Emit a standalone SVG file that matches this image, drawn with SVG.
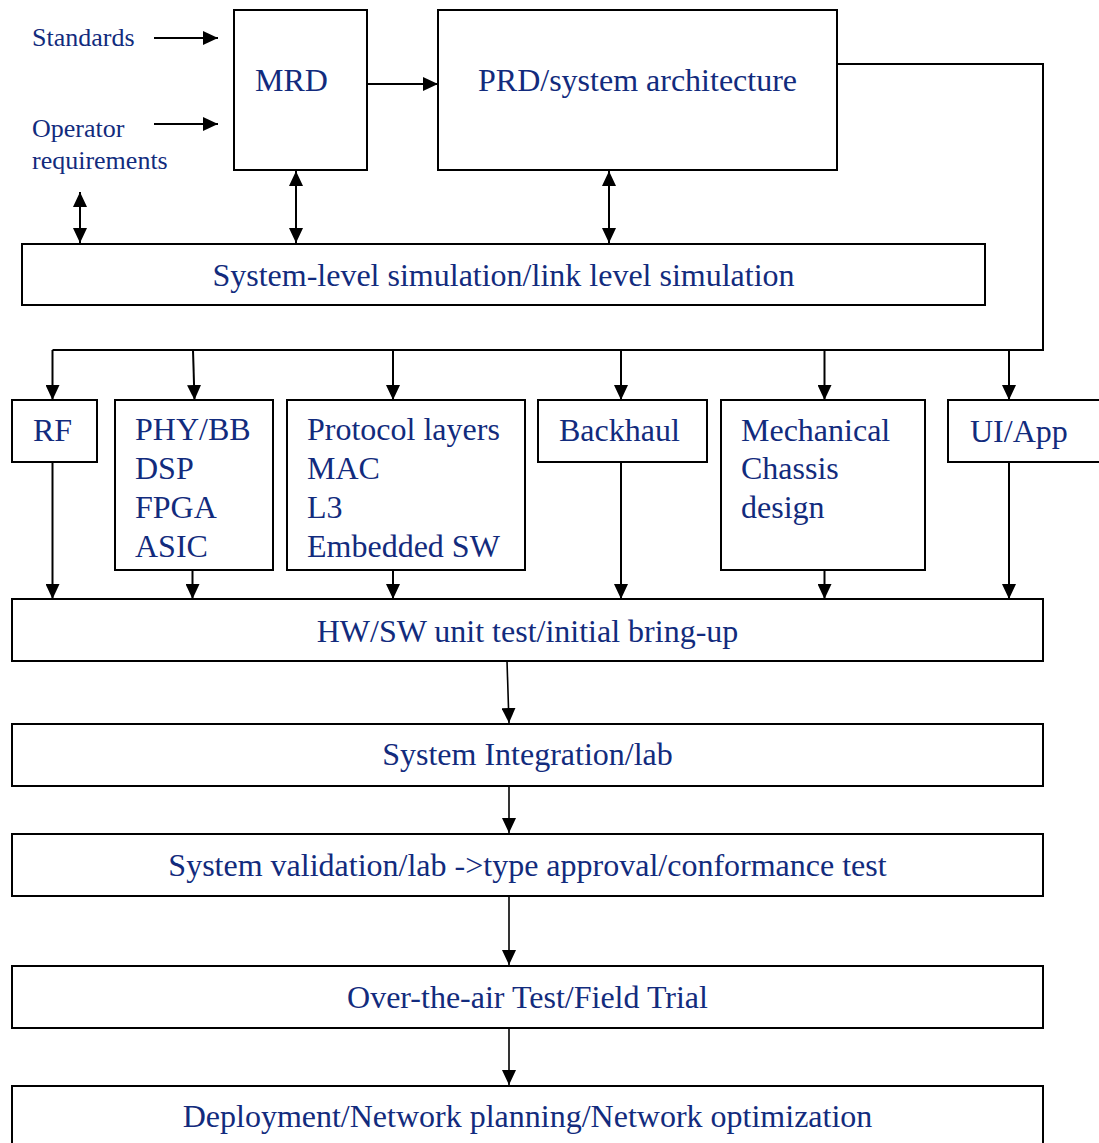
<svg xmlns="http://www.w3.org/2000/svg" width="1099" height="1143" viewBox="0 0 1099 1143">
<style>
.box{fill:#fff;stroke:#000;stroke-width:2}
.t{font-family:"Liberation Serif","Times New Roman",serif;font-size:32px;fill:#122b7d}
.s{font-family:"Liberation Serif","Times New Roman",serif;font-size:26px;fill:#122b7d}
.c{text-anchor:middle}
.ln{fill:none;stroke:#000;stroke-width:2}
.ar{fill:none;stroke:#000;stroke-width:2;marker-end:url(#ah)}
.ar2{fill:none;stroke:#000;stroke-width:2;marker-start:url(#ah);marker-end:url(#ah)}
.ar3{fill:none;stroke:#000;stroke-width:1.6;marker-end:url(#ah)}
</style>
<defs>
<marker id="ah" markerUnits="userSpaceOnUse" markerWidth="15" markerHeight="14" refX="15" refY="7" orient="auto-start-reverse"><path d="M0,0 L15,7 L0,14 z" fill="#000"/></marker>
</defs>
<rect width="1099" height="1143" fill="#fff"/>
<g id="inputs">
<text class="s" x="32" y="46">Standards</text>
<text class="s" x="32" y="137">Operator</text>
<text class="s" x="32" y="169">requirements</text>
</g>
<g id="mrd"><rect class="box" x="234" y="10" width="133" height="160"/><text class="t" x="255" y="91">MRD</text></g>
<g id="prd"><rect class="box" x="438" y="10" width="399" height="160"/><text class="t" x="478" y="91">PRD/system architecture</text></g>
<g id="sim"><rect class="box" x="22" y="244" width="963" height="61"/><text class="t c" x="503.5" y="286">System-level simulation/link level simulation</text></g>
<g id="rf"><rect class="box" x="12" y="400" width="85" height="62"/><text class="t" x="33" y="441">RF</text></g>
<g id="phy"><rect class="box" x="115" y="400" width="158" height="170"/>
<text class="t" x="135" y="440">PHY/BB</text><text class="t" x="135" y="479">DSP</text><text class="t" x="135" y="518">FPGA</text><text class="t" x="135" y="557">ASIC</text></g>
<g id="protocol"><rect class="box" x="287" y="400" width="238" height="170"/>
<text class="t" x="307" y="440">Protocol layers</text><text class="t" x="307" y="479">MAC</text><text class="t" x="307" y="518">L3</text><text class="t" x="307" y="557">Embedded SW</text></g>
<g id="backhaul"><rect class="box" x="538" y="400" width="169" height="62"/><text class="t" x="559" y="441">Backhaul</text></g>
<g id="mech"><rect class="box" x="721" y="400" width="204" height="170"/>
<text class="t" x="741" y="441">Mechanical</text><text class="t" x="741" y="479">Chassis</text><text class="t" x="741" y="518">design</text></g>
<g id="uiapp"><rect class="box" x="948" y="400" width="160" height="62"/><text class="t" x="970" y="442">UI/App</text></g>
<g id="hw"><rect class="box" x="12" y="599" width="1031" height="62"/><text class="t c" x="527.5" y="642">HW/SW unit test/initial bring-up</text></g>
<g id="si"><rect class="box" x="12" y="724" width="1031" height="62"/><text class="t c" x="527.5" y="765">System Integration/lab</text></g>
<g id="sv"><rect class="box" x="12" y="834" width="1031" height="62"/><text class="t c" x="527.5" y="876">System validation/lab -&gt;type approval/conformance test</text></g>
<g id="ota"><rect class="box" x="12" y="966" width="1031" height="62"/><text class="t c" x="527.5" y="1008">Over-the-air Test/Field Trial</text></g>
<g id="deploy"><rect class="box" x="12" y="1086" width="1031" height="70"/><text class="t c" x="527.5" y="1127">Deployment/Network planning/Network optimization</text></g>
<g id="connectors">
<line class="ar" x1="154" y1="38" x2="218" y2="38"/>
<line class="ar" x1="154" y1="124" x2="218" y2="124"/>
<line class="ar" x1="367" y1="84" x2="438" y2="84"/>
<line class="ar2" x1="80" y1="192" x2="80" y2="243"/>
<line class="ar2" x1="296" y1="171" x2="296" y2="243"/>
<line class="ar2" x1="609" y1="171" x2="609" y2="243"/>
<polyline class="ln" points="837,64 1043,64 1043,350 52.5,350"/>
<line class="ar" x1="52.5" y1="350" x2="52.5" y2="400"/>
<line class="ar" x1="193" y1="350" x2="194.5" y2="400"/>
<line class="ar" x1="393" y1="350" x2="393" y2="400"/>
<line class="ar" x1="621" y1="350" x2="621" y2="400"/>
<line class="ar" x1="824.5" y1="350" x2="824.5" y2="400"/>
<line class="ar" x1="1009" y1="350" x2="1009" y2="400"/>
<line class="ar" x1="52.5" y1="462" x2="52.5" y2="599"/>
<line class="ar" x1="192.5" y1="570" x2="192.5" y2="599"/>
<line class="ar" x1="393" y1="570" x2="393" y2="599"/>
<line class="ar" x1="621" y1="462" x2="621" y2="599"/>
<line class="ar" x1="824.5" y1="570" x2="824.5" y2="599"/>
<line class="ar" x1="1009" y1="462" x2="1009" y2="599"/>
<line class="ar3" x1="507" y1="661" x2="509" y2="723"/>
<line class="ar3" x1="509" y1="786" x2="509" y2="833"/>
<line class="ar3" x1="509" y1="896" x2="509" y2="965"/>
<line class="ar3" x1="509" y1="1028" x2="509" y2="1085"/>
</g>
</svg>
